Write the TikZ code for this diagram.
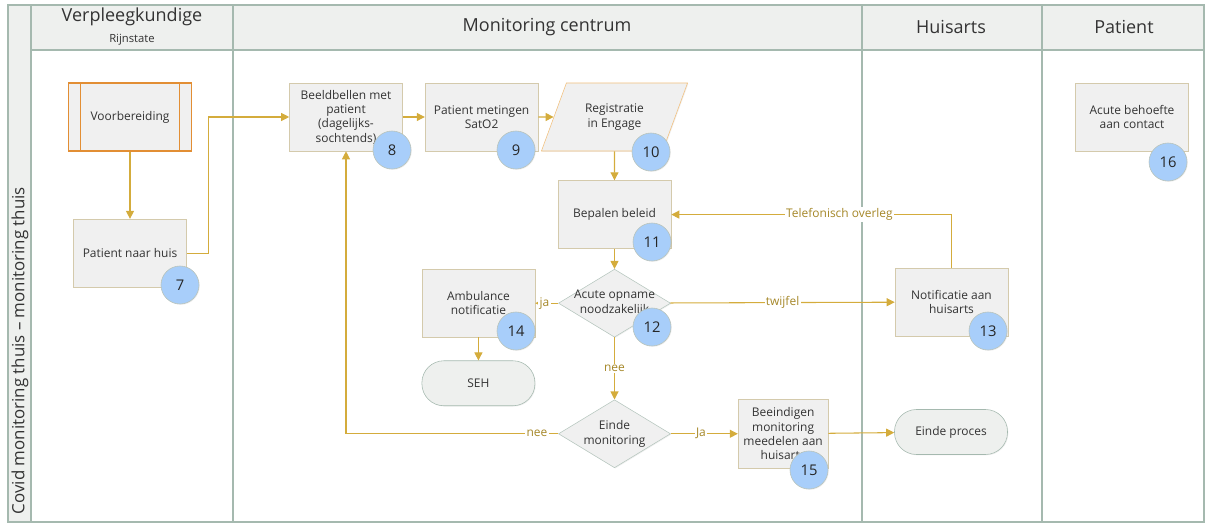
\documentclass[tikz,border=0pt]{standalone}
\usepackage{fontspec}
\setmainfont{Open Sans}
\usetikzlibrary{arrows.meta,positioning,shapes.geometric,shadows}

\definecolor{goud}{RGB}{212,172,60}
\definecolor{goudtekst}{RGB}{165,135,40}
\definecolor{kader}{RGB}{212,202,172}
\definecolor{vulling}{RGB}{240,240,240}
\definecolor{bol}{RGB}{168,206,250}
\definecolor{bolrand}{RGB}{185,195,185}
\definecolor{baan}{RGB}{165,185,175}
\definecolor{kopgrijs}{RGB}{238,240,238}
\definecolor{oranje}{RGB}{226,142,52}
\definecolor{lichtoranje}{RGB}{242,192,125}

\begin{document}
\begin{tikzpicture}[
  x=0.025cm, y=-0.025cm,
  every node/.style={align=center, font=\fontsize{8.5}{10.2}\selectfont, text=black!80},
  schaduw/.style={drop shadow={opacity=0.12, shadow xshift=0.6pt, shadow yshift=-0.6pt}},
  proc/.style={draw=kader, fill=vulling, minimum width=2.825cm, minimum height=1.7cm,
               inner sep=1pt, schaduw},
  predef/.style={draw=oranje, line width=1.2pt, fill=vulling, minimum width=3.075cm,
                 minimum height=1.7cm, schaduw},
  data/.style={trapezium, trapezium left angle=63.4, trapezium right angle=116.6,
               trapezium stretches=true, draw=lichtoranje, fill=vulling,
               minimum width=3.675cm, minimum height=1.7cm, schaduw},
  beslis/.style={diamond, draw=baan!80, fill=vulling, minimum width=2.8cm,
                 minimum height=1.7cm, inner sep=0pt, schaduw},
  eind/.style={draw=baan, fill=kopgrijs, rounded corners=0.55cm, minimum width=2.825cm,
               minimum height=1.125cm, schaduw},
  nummer/.style={circle, draw=bolrand, fill=bol, minimum size=0.95cm, inner sep=0pt,
                 font=\fontsize{10.5}{12}\selectfont, text=black!85, schaduw},
  kop/.style={font=\fontsize{12.8}{14}\selectfont},
  lbl/.style={fill=white, inner sep=1pt, text=goudtekst},
  arr/.style={-{Triangle[length=2mm, width=2mm]}, goud, line width=0.75pt}
]
\useasboundingbox (0,0) rectangle (1205,525);

\fill[kopgrijs] (8,5) rectangle (31,522);
\fill[kopgrijs] (31,5) rectangle (1204,50);
\draw[baan, line width=1pt] (8,5) rectangle (1204,522);
\draw[baan, line width=1pt] (31,5) -- (31,522);
\draw[baan, line width=1pt] (31,50) -- (1204,50);
\foreach \x in {233,862,1042}
  \draw[baan, line width=1pt] (\x,5) -- (\x,522);

\node[kop] (verpl) at (132,17) {Verpleegkundige};
\node[font=\fontsize{8}{9}\selectfont] (rijn) at (132,40) {Rijnstate};
\node[kop] (centrum) at (547,27) {Monitoring centrum};
\node[kop] (huisarts) at (951,27) {Huisarts};
\node[kop] (patient) at (1124,27) {Patient};
\node[rotate=90, anchor=west, font=\fontsize{12}{14}\selectfont] (pool) at (20,519)
  {Covid monitoring thuis -- monitoring thuis};

\node[predef] (voorb) at (130,117) {Voorbereiding};
\draw[oranje, line width=1.2pt] ([xshift=0.325cm]voorb.north west) -- ([xshift=0.325cm]voorb.south west);
\draw[oranje, line width=1.2pt] ([xshift=-0.325cm]voorb.north east) -- ([xshift=-0.325cm]voorb.south east);
\node[proc, below=1.675cm of voorb] (naarhuis) {Patient naar huis};
\node[proc] (beeld) at (346,117) {Beeldbellen met\\patient\\(dagelijks-\\sochtends)};
\node[proc, right=0.55cm of beeld] (meting) {Patient metingen\\SatO2};
\node[data] (regis) at (614.5,117) {Registratie\\in Engage};
\node[proc, below=0.725cm of regis] (beleid) {Bepalen beleid};
\node[beslis, below=0.5cm of beleid, label={center:Acute opname\\noodzakelijk}] (acuut) {};
\node[proc, left=0.575cm of acuut] (ambu) {Ambulance\\notificatie};
\node[eind, below=0.575cm of ambu] (seh) {SEH};
\node[beslis, below=1.55cm of acuut, label={center:Einde\\monitoring}] (einde) {};
\node[proc, right=1.675cm of einde, minimum width=2.25cm] (beeind) {Beeindigen\\monitoring\\meedelen aan\\huisarts};
\node[eind] (eproc) at (951,432) {Einde proces};
\node[proc] (notif) at (951.5,302) {Notificatie aan\\huisarts};
\node[proc] (behoefte) at (1132,117) {Acute behoefte\\aan contact};

\draw[arr] (voorb) -- (naarhuis);
\draw[arr] (naarhuis.east) -- ++(0.55cm,0) |- (beeld.west);
\draw[arr] (beeld) -- (meting);
\draw[arr] (meting) -- (regis);
\draw[arr] (regis) -- (beleid);
\draw[arr] (beleid) -- (acuut);
\draw[arr] (acuut) -- node[lbl, pos=0.6] {ja} (ambu);
\draw[arr] (acuut) -- node[lbl] {twijfel} (notif);
\draw[arr] (notif.north) |- node[lbl, pos=0.7] {Telefonisch overleg} (beleid.east);
\draw[arr] (ambu) -- (seh);
\draw[arr] (acuut) -- node[lbl] {nee} (einde);
\draw[arr] (einde.west) -| node[lbl, pos=0.05] {nee} (beeld.south);
\draw[arr] (einde) -- node[lbl, pos=0.45] {Ja} (beeind);
\draw[arr] (beeind) -- (eproc);

\node[nummer] (n7) at (180,285) {7};
\node[nummer] (n8) at (392,150) {8};
\node[nummer] (n9) at (516,150) {9};
\node[nummer] (n10) at (651,152) {10};
\node[nummer] (n11) at (652,242) {11};
\node[nummer] (n12) at (652,327) {12};
\node[nummer] (n13) at (988,331) {13};
\node[nummer] (n14) at (516,331) {14};
\node[nummer] (n15) at (809,470) {15};
\node[nummer] (n16) at (1168,162) {16};
\end{tikzpicture}
\end{document}
